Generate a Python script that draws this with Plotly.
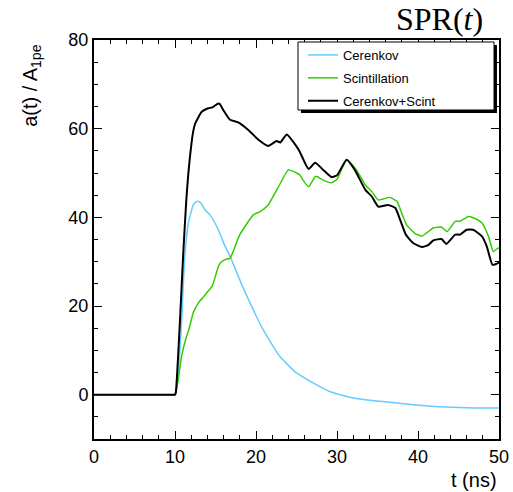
import plotly.graph_objects as go

# ---- data ----
t_cer = [0, 9.0, 9.8, 10, 10.1, 10.4, 10.8, 11.2, 11.65, 12.26, 12.5, 12.8, 13.2, 13.7, 14.3, 15.35, 16.1, 16.8,
         18.0, 19.26, 20.9, 22.96, 25.0, 27.1, 29.1, 31.2, 33.25, 35.3, 39.4, 43.5, 47.0, 50]
y_cer = [0, 0, 0, 0, 0.3, 5, 16, 31, 38.7, 42.8, 43.3, 43.6, 43.2, 41.7, 40.6, 37.2, 33.8, 31.2,
         25.9, 20.7, 14.6, 8.6, 4.9, 2.6, 0.7, -0.4, -1.1, -1.5, -2.25, -2.8, -3.0, -3.0]

t_sci = [0, 9.0, 9.8, 10, 10.4, 10.8, 11.4, 11.7, 12.26, 13.0, 13.5, 14.3, 14.6, 15.35, 15.6, 16.1, 16.8, 18.0,
         19.7, 20.5, 21.5, 22.75, 24.0, 25.0, 25.4, 25.8, 26.5, 27.3, 27.5, 28.3, 29.3, 30.0, 31.2,
         32.4, 33.5, 34.3, 35.1, 36.5, 37.4, 38.0, 38.6, 39.6, 40.5, 41.9, 42.9, 43.6, 44.6, 45.2,
         46.2, 47.0, 47.9, 48.7, 49.3, 49.9, 50]
y_sci = [0, 0, 0, 0, 3.4, 8.6, 13, 14.6, 18.5, 21, 22, 23.8, 24.5, 28.9, 29.7, 30.4, 30.8, 36.1,
         40.6, 41.3, 42.8, 46.8, 50.7, 50.0, 49.6, 48.4, 46.9, 49.2, 49.2, 48.4, 47.8, 48.6, 53.0,
         50.7, 47.3, 45.8, 43.9, 44.5, 43.6, 40.9, 38.3, 36.4, 35.8, 37.6, 37.8, 36.8, 39.1, 39.1,
         40.2, 39.8, 38.7, 35.7, 32.3, 33.1, 33]

t_sum = [0, 9.0, 9.8, 10, 10.1, 10.6, 11.0, 11.4, 11.85, 12.26, 12.5, 13.3, 14.1, 14.6, 15.35, 15.5, 16.1, 16.8,
         17.8, 19.05, 20.3, 21.5, 22.55, 23.0, 23.8, 25.0, 25.4, 26.5, 27.3, 28.3, 29.3, 30.0, 31.2,
         32.2, 33.5, 34.3, 35.1, 36.3, 37.2, 37.8, 38.5, 39.4, 40.5, 41.3, 41.9, 42.9, 43.5, 44.6,
         45.2, 46.0, 46.8, 47.9, 48.5, 49.2, 49.9, 50]
y_sum = [0, 0, 0, 0, 0.5, 16.2, 31.2, 44, 53.7, 59.5, 61.2, 63.8, 64.6, 64.8, 65.7, 65.6, 63.8, 62.0,
         61.4, 59.7, 57.5, 56.1, 57.2, 56.9, 58.7, 56.0, 54.8, 50.9, 52.3, 50.7, 49.1, 49.5, 53.0,
         50.7, 46.2, 44.7, 42.4, 42.8, 42.1, 39.4, 36.1, 34.2, 33.3, 33.8, 34.8, 35.1, 34.0, 36.1,
         36.1, 37.2, 37.2, 35.7, 33.4, 29.3, 29.7, 30]

names = ["Cerenkov", "Scintillation", "Cerenkov+Scint"]
colors = ["#66ccff", "#33cc00", "#000000"]
widths = [1.5, 1.5, 2]

fig = go.Figure()
for i, (tx, ty) in enumerate([(t_cer, y_cer), (t_sci, y_sci), (t_sum, y_sum)]):
    fig.add_trace(go.Scatter(x=tx, y=ty, mode="lines", name=names[i], legendgroup=names[i],
                             line=dict(color=colors[i], width=widths[i], shape="spline", smoothing=0.5)))

font = "Liberation Sans, Arial, sans-serif"
axis_common = dict(showline=True, linecolor="black", linewidth=2, mirror="allticks",
                   ticks="inside", tickcolor="black", tickwidth=1, ticklen=8,
                   showgrid=False, zeroline=False, automargin=False,
                   tickfont=dict(family=font, size=18, color="black"))
fig.update_xaxes(range=[0, 50], dtick=10, tick0=0,
                 minor=dict(dtick=2, ticks="inside", ticklen=4, tickcolor="black", showgrid=False),
                 **axis_common)
fig.update_yaxes(range=[-10, 80], dtick=20, tick0=0,
                 minor=dict(dtick=5, ticks="inside", ticklen=4, tickcolor="black", showgrid=False),
                 **axis_common)

fig.update_layout(
    width=513, height=492,
    margin=dict(l=94, r=14, t=40, b=53, autoexpand=False),
    paper_bgcolor="white", plot_bgcolor="white",
    showlegend=True,
    legend=dict(x=0.516, y=1.0, xanchor="left", yanchor="top",
                bgcolor="rgba(0,0,0,0)", borderwidth=0,
                font=dict(family=font, size=13, color="black"),
                tracegroupgap=3, itemwidth=30),
    shapes=[
        dict(type="rect", xref="paper", yref="paper",
             x0=0.511, x1=0.995, y0=0.817, y1=0.9875,
             fillcolor="black", line=dict(width=0), layer="above"),
        dict(type="rect", xref="paper", yref="paper",
             x0=0.5037, x1=0.9877, y0=0.8246, y1=0.995,
             fillcolor="white", line=dict(color="black", width=1), layer="above"),
    ],
    annotations=[
        dict(text="SPR(<i>t</i>)", xref="paper", yref="paper", x=0.965, y=1.0526,
             xanchor="right", yanchor="middle", showarrow=False,
             font=dict(family="Liberation Serif, Times New Roman, serif", size=32, color="black")),
        dict(text="a(t) / A<sub>1pe</sub>", xref="paper", yref="paper", x=-0.156, y=1.0,
             xanchor="center", yanchor="top", yshift=-3, textangle=-90, showarrow=False,
             font=dict(family=font, size=20, color="black")),
        dict(text="t (ns)", xref="paper", yref="paper", x=1.0, y=-0.103,
             xanchor="right", yanchor="middle", showarrow=False,
             font=dict(family=font, size=20, color="black")),
    ],
)

fig.write_html("out.html")
